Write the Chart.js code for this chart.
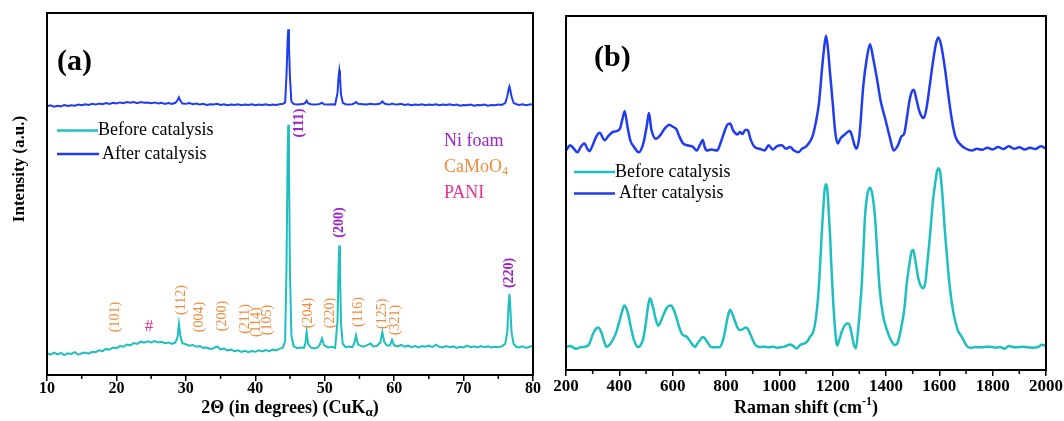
<!DOCTYPE html>
<html><head><meta charset="utf-8">
<script src="https://cdn.jsdelivr.net/npm/chart.js@4.4.0/dist/chart.umd.min.js"></script>
<style>
html,body{margin:0;padding:0;background:#fff;}
#wrap{position:relative;width:1064px;height:421px;overflow:hidden;background:#fff;}
canvas{position:absolute;left:0;top:0;}
</style></head><body>
<div id="wrap">
<canvas id="c1" width="1064" height="421" style="width:1064px;height:421px"></canvas>
<canvas id="c2" width="1064" height="421" style="width:1064px;height:421px"></canvas>
</div>
<script>
// ---------- data ----------
const seriesNames = ['Before catalysis', 'After catalysis'];
const xrdTickValues = [10, 20, 30, 40, 50, 60, 70, 80];
const ramanTickValues = [200, 400, 600, 800, 1000, 1200, 1400, 1600, 1800, 2000];

const xrdAngle = [10,10.5,11,11.5,12,12.5,13,13.5,14,14.5,
15,15.5,16,16.5,17,17.5,18,18.5,19,19.5,
20,20.5,21,21.5,22,22.5,23,23.5,24,24.5,
25,25.5,26,26.5,27,27.5,28,28.5,
28.8,29,29.2,
29.5,30,30.5,31,31.5,32,32.5,33,33.5,34,
34.5,35,35.5,36,36.5,37,37.5,38,38.5,39,
39.5,40,40.5,41,41.5,42,42.5,43,43.5,44,
44.3,44.5,44.65,44.75,44.85,45,45.2,45.5,
46,46.5,47,47.2,47.4,47.6,48,48.5,49,49.3,49.6,49.9,50.5,51,51.5,
51.85,52,52.1,52.2,52.35,52.6,53,53.5,54,54.3,54.5,54.8,55.5,56,56.6,57,57.5,
58,58.3,58.6,59,59.4,59.7,60,
60.5,61,61.5,62,62.5,63,63.5,64,64.5,65,
65.5,66,66.5,67,67.5,68,68.5,69,69.5,70,
70.5,71,71.5,72,72.5,73,73.5,74,74.5,75,
75.5,76,
76.3,76.5,76.6,76.7,76.9,77.2,77.6,
78,78.5,79,79.5,80];

const xrdBefore = [6.0,5.6,6.2,5.7,6.1,5.5,6.0,5.8,6.3,5.6,
6.0,6.2,5.9,6.4,6.3,6.8,6.6,7.2,7.0,7.6,
7.4,8.0,7.8,8.4,8.2,8.8,8.6,9.2,8.9,9.3,
9.0,9.4,9.0,9.2,8.8,9.0,8.6,9.0,
10.5,14.1,10.8,
8.8,8.5,8.1,8.3,7.8,8.0,7.5,7.6,7.2,7.4,
7.9,7.1,7.3,6.8,7.0,6.6,6.8,6.4,6.7,6.3,
6.6,6.4,6.8,6.5,6.9,6.6,7.0,6.8,7.2,7.6,
9.5,30,60,69.1,58,28,11,8.0,
7.4,7.6,7.5,8.6,11.9,8.6,7.6,7.3,7.6,8.4,10.1,8.2,7.6,7.8,7.5,
15,30,35.8,29,14,8.6,7.7,7.9,7.7,9.0,10.9,8.4,7.8,8.1,8.7,7.9,8.0,
9.0,11.8,9.0,8.1,8.2,9.7,8.2,
7.9,8.3,7.8,8.1,7.7,8.0,7.6,8.0,7.8,8.1,
7.7,8.4,7.8,7.6,8.0,7.7,7.9,7.5,7.8,7.6,
8.1,7.7,7.9,7.6,8.0,7.7,7.9,7.6,7.8,7.7,
7.9,8.6,
12,20,22.4,20,12,8.6,7.8,
7.6,7.9,7.5,7.8,8.0];

const xrdAfter = [74.2,74.5,74.1,74.4,74.2,74.6,74.3,74.5,74.4,74.7,
74.5,74.8,74.6,74.9,74.7,75.0,74.8,75.1,74.9,75.2,
75.0,75.3,75.1,75.4,75.2,75.4,75.1,75.4,75.2,75.3,
75.1,75.3,75.0,75.2,74.9,75.1,74.9,75.2,
75.9,76.7,75.8,
75.0,74.9,75.1,74.8,75.0,74.7,74.9,74.6,74.8,74.7,
74.9,74.6,74.8,74.5,74.7,74.6,74.8,74.5,74.7,74.6,
74.8,74.5,74.7,74.6,74.8,74.5,74.7,74.6,74.8,74.9,
75.3,83,92,95.5,91,82,75.6,74.9,
74.7,74.8,74.9,75.2,75.8,75.1,74.8,74.7,74.8,74.9,75.2,74.8,74.7,74.8,74.7,
78,82.5,84.1,82.3,77.5,75.2,74.8,74.7,74.8,75.1,75.4,74.9,74.8,74.7,74.9,74.8,74.8,
75.0,75.6,75.0,74.8,74.7,75.0,74.8,
74.7,74.9,74.6,74.8,74.5,74.7,74.6,74.8,74.5,74.7,
74.6,74.8,74.5,74.7,74.6,74.8,74.5,74.7,74.4,74.6,
74.5,74.7,74.4,74.6,74.5,74.7,74.4,74.6,74.5,74.7,
74.6,75.1,
77,79,79.7,79,77,75.2,74.8,
74.6,74.8,74.5,74.7,74.8];

const ramanBeforeShift = [200,215,228,240,252,265,284,302,312,321,
334,344,353,365,378,390,400,410,419,427,
434,444,453,462,471,481,490,498,505,510,
515,521,527,536,546,556,565,576,585,594,
604,615,625,634,646,653,662,671,684,693,
702,709,715,722,730,743,760,777,787,796,
805,815,824,834,843,852,862,871,878,886,
893,901,909,918,927,945,960,977,990,1002,
1020,1040,1052,1065,1077,1090,1100,1108,1115,1127,
1137,1146,1153,1159,1165,1170,1175,1180,1185,1190,
1196,1202,1209,1217,1225,1234,1245,1256,1265,1273,
1280,1287,1296,1303,1309,1316,1321,1330,1340,1349,
1359,1368,1377,1390,1402,1418,1434,1445,1459,1470,
1477,1488,1496,1502,1510,1521,1530,1540,1548,1556,
1565,1575,1584,1591,1597,1604,1612,1620,1627,1637,
1652,1668,1684,1697,1707,1720,1735,1750,1770,1790,
1810,1828,1845,1860,1875,1890,1910,1930,1950,1970,
1985,2000];

const ramanBeforeInt = [6.5,6.8,6.3,6.0,6.4,6.5,7.0,10.3,11.6,12.0,
10.3,7.8,6.5,7.3,8.9,11.0,13.7,16.5,18.2,17.3,
15.5,11.8,8.9,7.2,6.5,7.2,8.9,12.5,16.5,19.0,
20.3,19.2,17.5,14.5,12.5,13.8,15.5,17.3,18.1,18.2,
17.0,14.6,12.0,10.3,9.6,9.4,8.5,7.5,6.5,7.5,
8.4,9.1,9.3,8.8,7.9,6.5,6.4,6.5,8.0,10.8,
14.5,17.0,15.8,13.7,12.0,11.3,11.5,11.9,11.9,11.0,
9.8,8.4,7.2,6.7,6.5,6.6,6.4,6.6,6.3,6.4,
6.6,7.2,6.8,6.1,7.0,7.4,7.8,8.4,9.4,10.8,
14.5,21.2,30.0,38.3,46.0,51.0,52.5,51.0,45.0,38.3,
28.0,19.3,11.5,6.9,8.5,10.8,12.6,13.2,12.3,9.5,
7.0,6.1,11.7,18.0,24.0,35.0,43.0,49.5,51.5,49.5,
43.0,32.0,22.2,15.0,11.7,8.5,7.0,8.0,12.7,18.0,
24.0,30.0,33.5,34.0,31.0,26.0,23.8,23.1,25.0,31.0,
38.0,47.0,52.5,56.0,57.0,55.5,49.0,40.0,33.5,25.0,
16.5,11.5,9.4,7.5,6.5,6.3,6.5,6.4,6.5,6.6,
6.3,6.5,6.0,6.8,6.5,6.4,6.6,6.4,6.3,6.5,
7.1,6.8];

const ramanAfterShift = [200,216,224,243,255,269,280,288,300,314,
326,345,360,377,390,403,412,420,430,441,
455,473,490,503,511,520,537,555,570,588,
600,614,625,639,655,677,690,702,713,720,
728,745,767,779,795,805,815,828,843,852,
862,872,881,893,907,925,945,960,975,990,
1009,1025,1040,1055,1072,1085,1098,1110,1124,1137,
1149,1160,1168,1175,1182,1190,1200,1210,1219,1230,
1245,1257,1265,1273,1282,1289,1300,1315,1328,1340,
1352,1366,1380,1398,1415,1429,1445,1458,1468,1478,
1487,1496,1504,1514,1525,1535,1542,1552,1564,1576,
1587,1596,1606,1621,1635,1647,1660,1678,1700,1723,
1740,1760,1780,1800,1820,1840,1860,1880,1900,1920,
1940,1960,1980,2000];

const ramanAfterInt = [62.0,63.5,63.0,61.5,63.0,64.0,62.5,61.8,63.5,66.0,
67.0,64.9,66.2,67.3,67.5,68.3,71.0,73.1,69.0,64.9,
63.0,61.5,64.0,69.0,72.6,68.0,65.3,66.5,68.2,69.3,
68.7,68.0,66.0,64.0,63.5,63.0,62.0,63.5,65.0,63.0,
62.0,62.3,62.0,64.0,67.5,69.3,69.6,67.5,66.5,67.2,
66.7,67.8,67.8,65.0,63.0,62.5,62.0,63.5,62.3,63.2,
63.5,62.5,63.0,62.0,61.5,62.5,63.0,64.0,65.9,70.0,
75.6,85.0,91.0,94.4,91.0,84.0,75.6,67.0,64.0,65.5,
66.5,67.3,67.5,66.0,63.5,62.5,66.0,80.4,88.0,92.0,
88.0,82.3,76.0,70.7,65.5,62.0,63.5,66.0,66.7,71.0,
75.6,78.5,79.2,76.5,73.1,71.5,71.2,74.0,80.4,87.0,
92.0,93.9,92.0,85.2,77.0,70.7,66.0,63.8,62.5,62.0,
62.5,62.2,62.8,62.3,63.0,62.4,63.2,62.5,62.9,62.3,
62.8,62.4,63.2,62.6];

// ---------- styling ----------
const COLORS = { before: '#1fbfbf', after: '#1f3cf0', ni: '#9a22c8', camo: '#f08a3c', pani: '#e8308c' };
const SERIF = '"Liberation Serif", "Times New Roman", serif';
const f = (size, bold) => (bold ? 'bold ' : '') + size + 'px ' + SERIF;

function pts(xs, ys) { return xs.map((x, i) => ({ x: x, y: ys[i] })); }

function drawFrame(ctx, a) {
  ctx.save(); ctx.strokeStyle = '#000'; ctx.lineWidth = 2;
  ctx.strokeRect(a.left, a.top, a.right - a.left, a.bottom - a.top);
  ctx.restore();
}
function drawMinor(ctx, xs, a, ticks) {
  ctx.save(); ctx.strokeStyle = '#000'; ctx.lineWidth = 1.5;
  for (let i = 0; i < ticks.length - 1; i++) {
    const px = xs.getPixelForValue((ticks[i] + ticks[i + 1]) / 2);
    ctx.beginPath(); ctx.moveTo(px, a.bottom); ctx.lineTo(px, a.bottom + 4); ctx.stroke();
  }
  ctx.restore();
}
function text(ctx, t, x, y, font, color, align) {
  ctx.save(); ctx.font = font; ctx.fillStyle = color; ctx.textAlign = align || 'left';
  ctx.textBaseline = 'middle'; ctx.fillText(t, x, y); ctx.restore();
}
function vtext(ctx, t, x, y, font, color) {
  ctx.save(); ctx.translate(x, y); ctx.rotate(-Math.PI / 2); ctx.font = font; ctx.fillStyle = color;
  ctx.textAlign = 'center'; ctx.textBaseline = 'middle'; ctx.fillText(t, 0, 0); ctx.restore();
}
function rich(ctx, parts, x, y, color, align) {
  ctx.save(); ctx.fillStyle = color; ctx.textBaseline = 'middle'; ctx.textAlign = 'left';
  let w = 0;
  parts.forEach(p => { ctx.font = p.font; p.w = ctx.measureText(p.t).width; w += p.w; });
  let cx = align === 'center' ? x - w / 2 : x;
  parts.forEach(p => { ctx.font = p.font; ctx.fillText(p.t, cx, y + (p.dy || 0)); cx += p.w; });
  ctx.restore();
}
function legendLine(ctx, x0, x1, y, color, lw) {
  ctx.save(); ctx.strokeStyle = color; ctx.lineWidth = lw; ctx.beginPath();
  ctx.moveTo(x0, y); ctx.lineTo(x1, y); ctx.stroke(); ctx.restore();
}

// ---------- annotations (XRD reflections) ----------
const xrdNotes = {
  camo: { labels: ['(101)','(112)','(004)','(200)','(211)','(114)','(105)','(204)','(220)','(116)','(125)','(321)'],
          at: [19.9, 29.3, 31.9, 35.2, 38.5, 40.2, 41.8, 47.6, 50.8, 54.8, 58.35, 60.1],
          level: [16.0, 20.7, 16.0, 16.3, 15.5, 14.6, 15.2, 17.1, 17.1, 17.4, 16.9, 15.2] },
  ni: { labels: ['(111)','(200)','(220)'], at: [46.4, 52.1, 76.6], level: [69.6, 42.1, 28.2] },
  pani: { label: '#', at: 24.7, level: 13.5 }
};

const leftDeco = {
  id: 'leftDeco',
  afterDraw(chart) {
    const ctx = chart.ctx, a = chart.chartArea, xs = chart.scales.x, ys = chart.scales.y;
    drawMinor(ctx, xs, a, xrdTickValues);
    drawFrame(ctx, a);
    text(ctx, '(a)', a.left + 10, a.top + 49, f(30, true), '#000');
    legendLine(ctx, a.left + 10, a.left + 51, a.top + 117.5, COLORS.before, 2.5);
    text(ctx, seriesNames[0], a.left + 51, a.top + 117.5, f(18), '#000');
    legendLine(ctx, a.left + 10, a.left + 52, a.top + 141, COLORS.after, 2.5);
    text(ctx, seriesNames[1], a.left + 55, a.top + 141, f(18), '#000');
    text(ctx, 'Ni foam', a.left + 397, a.top + 128, f(18), COLORS.ni);
    rich(ctx, [{ t: 'CaMoO', font: f(18) }, { t: '4', font: f(12), dy: 5 }], a.left + 397, a.top + 154, COLORS.camo);
    text(ctx, 'PANI', a.left + 397, a.top + 180, f(18), COLORS.pani);
    xrdNotes.camo.labels.forEach((l, i) => vtext(ctx, l, xs.getPixelForValue(xrdNotes.camo.at[i]), ys.getPixelForValue(xrdNotes.camo.level[i]), f(14), COLORS.camo));
    xrdNotes.ni.labels.forEach((l, i) => vtext(ctx, l, xs.getPixelForValue(xrdNotes.ni.at[i]), ys.getPixelForValue(xrdNotes.ni.level[i]), f(14, true), COLORS.ni));
    text(ctx, xrdNotes.pani.label, xs.getPixelForValue(xrdNotes.pani.at), ys.getPixelForValue(xrdNotes.pani.level), f(17), COLORS.pani, 'center');
    vtext(ctx, 'Intensity (a.u.)', 20, 169, f(17, true), '#000');
    rich(ctx, [{ t: '2\u0398 (in degrees) (CuK', font: f(18, true) }, { t: '\u03b1', font: f(13, true), dy: 5 }, { t: ')', font: f(18, true) }],
      (a.left + a.right) / 2, 408, '#000', 'center');
  }
};

const rightDeco = {
  id: 'rightDeco',
  afterDraw(chart) {
    const ctx = chart.ctx, a = chart.chartArea, xs = chart.scales.x;
    drawMinor(ctx, xs, a, ramanTickValues);
    drawFrame(ctx, a);
    text(ctx, '(b)', a.left + 28, a.top + 42, f(30, true), '#000');
    legendLine(ctx, a.left + 8, a.left + 49, a.top + 156, COLORS.before, 2.5);
    text(ctx, seriesNames[0], a.left + 49, a.top + 156, f(18), '#000');
    legendLine(ctx, a.left + 8, a.left + 49, a.top + 177.5, COLORS.after, 2.5);
    text(ctx, seriesNames[1], a.left + 53, a.top + 177.5, f(18), '#000');
    rich(ctx, [{ t: 'Raman shift (cm', font: f(18, true) }, { t: '-1', font: f(12, true), dy: -6 }, { t: ')', font: f(18, true) }],
      (a.left + a.right) / 2, 408, '#000', 'center');
  }
};

function xScale(min, max, tickVals, axisH, pad, size) {
  return {
    type: 'linear', min: min, max: max,
    afterBuildTicks: s => { s.ticks = tickVals.map(v => ({ value: v })); },
    afterFit: s => { s.height = axisH; },
    grid: { drawOnChartArea: false, drawTicks: true, tickLength: 6, color: '#000', lineWidth: 1.5 },
    border: { display: false },
    ticks: { font: { family: SERIF, size: size, weight: 'bold' }, color: '#000', padding: pad, maxRotation: 0, autoSkip: false,
             callback: v => String(v) }
  };
}

new Chart(document.getElementById('c1'), {
  type: 'line',
  data: { datasets: [
    { label: seriesNames[1], data: pts(xrdAngle, xrdAfter), borderColor: COLORS.after, borderWidth: 2, pointRadius: 0, tension: 0 },
    { label: seriesNames[0], data: pts(xrdAngle, xrdBefore), borderColor: COLORS.before, borderWidth: 2, pointRadius: 0, tension: 0 }
  ] },
  options: {
    responsive: false, animation: false, events: [],
    layout: { padding: { left: 47, right: 531, top: 13, bottom: 0 } },
    plugins: { legend: { display: false }, tooltip: { enabled: false } },
    scales: { x: xScale(10, 80, xrdTickValues, 46, -2, 16), y: { display: false, min: 0, max: 100 } }
  },
  plugins: [leftDeco]
});

new Chart(document.getElementById('c2'), {
  type: 'line',
  data: { datasets: [
    { label: seriesNames[1], data: pts(ramanAfterShift, ramanAfterInt), borderColor: COLORS.after, borderWidth: 2.5, pointRadius: 0, cubicInterpolationMode: 'monotone' },
    { label: seriesNames[0], data: pts(ramanBeforeShift, ramanBeforeInt), borderColor: COLORS.before, borderWidth: 2.5, pointRadius: 0, cubicInterpolationMode: 'monotone' }
  ] },
  options: {
    responsive: false, animation: false, events: [],
    layout: { padding: { left: 566, right: 18, top: 16, bottom: 0 } },
    plugins: { legend: { display: false }, tooltip: { enabled: false } },
    scales: { x: xScale(200, 2000, ramanTickValues, 51, 0, 17), y: { display: false, min: 0, max: 100 } }
  },
  plugins: [rightDeco]
});
</script>
</body></html>
